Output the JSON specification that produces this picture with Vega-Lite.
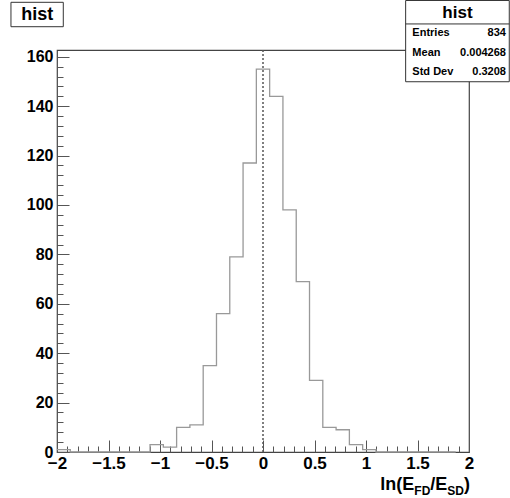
{
  "$schema": "https://vega.github.io/schema/vega-lite/v6.json",
  "width": 412,
  "height": 402,
  "autosize": {"type": "none"},
  "padding": {"left": 57, "top": 50, "right": 41, "bottom": 46},
  "background": "white",
  "config": {
    "view": {"stroke": "#444", "strokeWidth": 1.2},
    "font": "Liberation Sans",
    "axis": {
      "domain": false,
      "grid": false,
      "labelFont": "Liberation Sans",
      "labelFontWeight": "bold",
      "labelFontSize": 16,
      "labelColor": "#000",
      "tickColor": "#555",
      "tickWidth": 1,
      "labelFlush": false,
      "labelOverlap": false,
      "title": null
    }
  },
  "layer": [
    {
      "data": {
        "values": [
          {"bin_start": -2.0, "bin_end": -1.870968, "count": 1},
          {"bin_start": -1.870968, "bin_end": -1.741935, "count": 0},
          {"bin_start": -1.741935, "bin_end": -1.612903, "count": 0},
          {"bin_start": -1.612903, "bin_end": -1.483871, "count": 0},
          {"bin_start": -1.483871, "bin_end": -1.354839, "count": 0},
          {"bin_start": -1.354839, "bin_end": -1.225806, "count": 0},
          {"bin_start": -1.225806, "bin_end": -1.096774, "count": 0},
          {"bin_start": -1.096774, "bin_end": -0.967742, "count": 3},
          {"bin_start": -0.967742, "bin_end": -0.83871, "count": 2},
          {"bin_start": -0.83871, "bin_end": -0.709677, "count": 10},
          {"bin_start": -0.709677, "bin_end": -0.580645, "count": 11},
          {"bin_start": -0.580645, "bin_end": -0.451613, "count": 35},
          {"bin_start": -0.451613, "bin_end": -0.322581, "count": 56},
          {"bin_start": -0.322581, "bin_end": -0.193548, "count": 79},
          {"bin_start": -0.193548, "bin_end": -0.064516, "count": 117},
          {"bin_start": -0.064516, "bin_end": 0.064516, "count": 155},
          {"bin_start": 0.064516, "bin_end": 0.193548, "count": 144},
          {"bin_start": 0.193548, "bin_end": 0.322581, "count": 98},
          {"bin_start": 0.322581, "bin_end": 0.451613, "count": 69},
          {"bin_start": 0.451613, "bin_end": 0.580645, "count": 29},
          {"bin_start": 0.580645, "bin_end": 0.709677, "count": 10},
          {"bin_start": 0.709677, "bin_end": 0.83871, "count": 9},
          {"bin_start": 0.83871, "bin_end": 0.967742, "count": 3},
          {"bin_start": 0.967742, "bin_end": 1.096774, "count": 1},
          {"bin_start": 1.096774, "bin_end": 1.225806, "count": 0},
          {"bin_start": 1.225806, "bin_end": 1.354839, "count": 0},
          {"bin_start": 1.354839, "bin_end": 1.483871, "count": 0},
          {"bin_start": 1.483871, "bin_end": 1.612903, "count": 0},
          {"bin_start": 1.612903, "bin_end": 1.741935, "count": 0},
          {"bin_start": 1.741935, "bin_end": 1.870968, "count": 0},
          {"bin_start": 1.870968, "bin_end": 2.0, "count": 0}
        ]
      },
      "mark": {"type": "line", "interpolate": "step-after", "color": "#999", "strokeWidth": 1.3},
      "encoding": {
        "x": {
          "field": "bin_start",
          "type": "quantitative",
          "scale": {"domain": [-2, 2], "nice": false, "zero": false},
          "axis": {
            "orient": "bottom",
            "tickCount": 200,
            "values": [-2, -1.9, -1.8, -1.7, -1.6, -1.5, -1.4, -1.3, -1.2, -1.1, -1, -0.9, -0.8, -0.7, -0.6, -0.5, -0.4, -0.3, -0.2, -0.1, 0, 0.1, 0.2, 0.3, 0.4, 0.5, 0.6, 0.7, 0.8, 0.9, 1, 1.1, 1.2, 1.3, 1.4, 1.5, 1.6, 1.7, 1.8, 1.9, 2],
            "tickSize": {"condition": {"test": "abs(datum.value*2 - round(datum.value*2)) < 0.001", "value": -12}, "value": -6},
            "labelExpr": "abs(datum.value*2 - round(datum.value*2)) < 0.001 ? format(datum.value, '~g') : ''",
            "labelFontSize": 17,
            "labelPadding": 15
          }
        },
        "y": {
          "field": "count",
          "type": "quantitative",
          "scale": {"domain": [0, 162.75], "nice": false, "zero": true},
          "axis": {
            "orient": "left",
            "tickCount": 200,
            "values": [0, 4, 8, 12, 16, 20, 24, 28, 32, 36, 40, 44, 48, 52, 56, 60, 64, 68, 72, 76, 80, 84, 88, 92, 96, 100, 104, 108, 112, 116, 120, 124, 128, 132, 136, 140, 144, 148, 152, 156, 160],
            "tickSize": {"condition": {"test": "datum.value % 20 === 0", "value": -12}, "value": -6},
            "labelExpr": "datum.value % 20 === 0 ? format(datum.value, 'd') : ''",
            "labelPadding": 16
          }
        }
      }
    },
    {
      "data": {"values": [{"x0": 0}]},
      "mark": {"type": "rule", "color": "#555", "strokeWidth": 1.5, "strokeDash": [2, 2]},
      "encoding": {"x": {"field": "x0", "type": "quantitative"}}
    },
    {
      "data": {"values": [{"t": "ln(E"}]},
      "mark": {"type": "text", "align": "right", "baseline": "alphabetic", "fontSize": 18, "fontWeight": "bold", "font": "Liberation Sans", "color": "#000", "dx": -54.7, "dy": 38},
      "encoding": {"x": {"datum": 2}, "y": {"datum": 0}, "text": {"field": "t"}}
    },
    {
      "data": {"values": [{"t": "FD"}]},
      "mark": {"type": "text", "align": "right", "baseline": "alphabetic", "fontSize": 12, "fontWeight": "bold", "font": "Liberation Sans", "color": "#000", "dx": -38.7, "dy": 43},
      "encoding": {"x": {"datum": 2}, "y": {"datum": 0}, "text": {"field": "t"}}
    },
    {
      "data": {"values": [{"t": "/E"}]},
      "mark": {"type": "text", "align": "right", "baseline": "alphabetic", "fontSize": 18, "fontWeight": "bold", "font": "Liberation Sans", "color": "#000", "dx": -21.7, "dy": 38},
      "encoding": {"x": {"datum": 2}, "y": {"datum": 0}, "text": {"field": "t"}}
    },
    {
      "data": {"values": [{"t": "SD"}]},
      "mark": {"type": "text", "align": "right", "baseline": "alphabetic", "fontSize": 12, "fontWeight": "bold", "font": "Liberation Sans", "color": "#000", "dx": -5, "dy": 43},
      "encoding": {"x": {"datum": 2}, "y": {"datum": 0}, "text": {"field": "t"}}
    },
    {
      "data": {"values": [{"t": ")"}]},
      "mark": {"type": "text", "align": "right", "baseline": "alphabetic", "fontSize": 18, "fontWeight": "bold", "font": "Liberation Sans", "color": "#000", "dx": 1, "dy": 38},
      "encoding": {"x": {"datum": 2}, "y": {"datum": 0}, "text": {"field": "t"}}
    },
    {
      "data": {"values": [{"box": "title"}]},
      "mark": {"type": "rect", "fill": "white", "stroke": "#333", "strokeWidth": 1},
      "encoding": {"x": {"datum": -2.447}, "x2": {"datum": -1.939}, "y": {"datum": 182.06}, "y2": {"datum": 172.18}}
    },
    {
      "data": {"values": [{"t": "hist"}]},
      "mark": {"type": "text", "align": "center", "baseline": "middle", "fontSize": 18, "fontWeight": "bold", "font": "Liberation Sans", "color": "#000"},
      "encoding": {"x": {"datum": -2.192}, "y": {"datum": 177.1}, "text": {"field": "t"}}
    },
    {
      "data": {"values": [{"box": "stats"}]},
      "mark": {"type": "rect", "fill": "white", "stroke": "#333", "strokeWidth": 1},
      "encoding": {"x": {"datum": 1.385}, "x2": {"datum": 2.391}, "y": {"datum": 182.8}, "y2": {"datum": 149.9}}
    },
    {
      "data": {"values": [{"box": "stats"}]},
      "mark": {"type": "rule", "color": "#333", "strokeWidth": 1},
      "encoding": {"x": {"datum": 1.385}, "x2": {"datum": 2.391}, "y": {"datum": 173.3}}
    },
    {
      "data": {"values": [{"t": "hist"}]},
      "mark": {"type": "text", "align": "center", "baseline": "middle", "fontSize": 17, "fontWeight": "bold", "font": "Liberation Sans", "color": "#000"},
      "encoding": {"x": {"datum": 1.888}, "y": {"datum": 177.9}, "text": {"field": "t"}}
    },
    {
      "data": {"values": [{"labels": ["Entries", "Mean", "Std Dev"], "numbers": ["834", "0.004268", "0.3208"]}]},
      "layer": [
        {
          "mark": {"type": "text", "align": "left", "baseline": "middle", "fontSize": 11, "fontWeight": "bold", "font": "Liberation Sans", "color": "#000", "lineHeight": 19.5},
          "encoding": {"x": {"datum": 1.45}, "y": {"datum": 169.6}, "text": {"field": "labels"}}
        },
        {
          "mark": {"type": "text", "align": "right", "baseline": "middle", "fontSize": 11, "fontWeight": "bold", "font": "Liberation Sans", "color": "#000", "lineHeight": 19.5},
          "encoding": {"x": {"datum": 2.359}, "y": {"datum": 169.6}, "text": {"field": "numbers"}}
        }
      ]
    }
  ]
}
